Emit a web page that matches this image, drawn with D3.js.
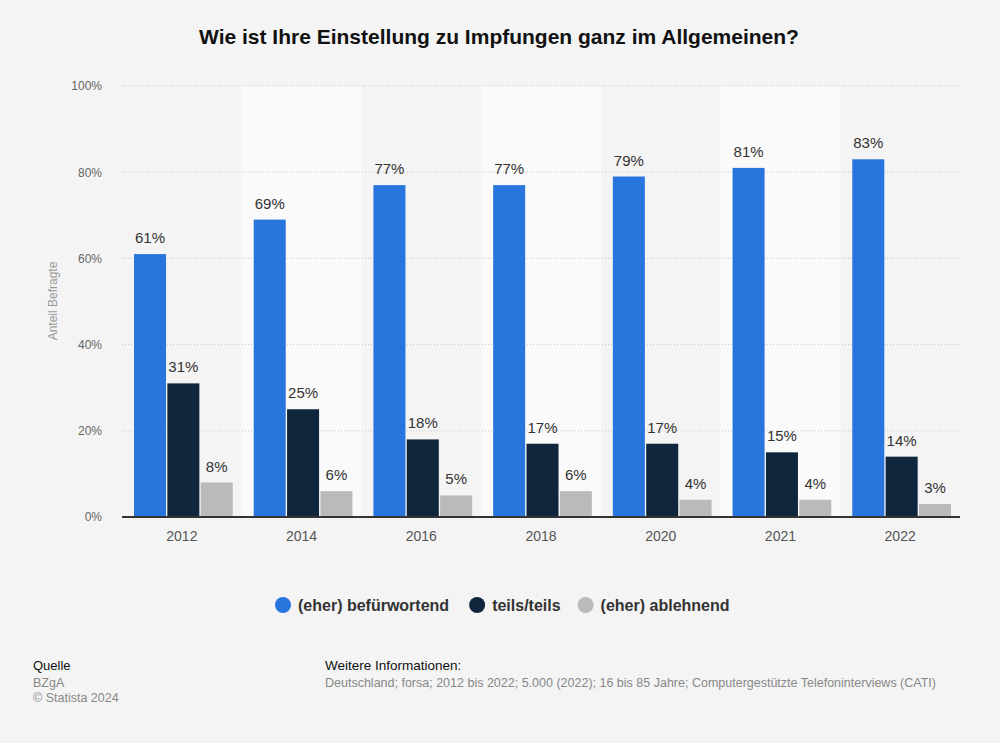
<!DOCTYPE html>
<html><head><meta charset="utf-8">
<script src="https://cdn.jsdelivr.net/npm/d3@7"></script>
<style>
body{margin:0;background:#f4f4f4;}
svg{display:block;font-family:"Liberation Sans",Arial,sans-serif;}
</style></head>
<body><svg id="c" width="1000" height="743"></svg>
<script>
const years = ["2012","2014","2016","2018","2020","2021","2022"];
const seriesNames = ["(eher) befürwortend","teils/teils","(eher) ablehnend"];
const befuerwortend = [61,69,77,77,79,81,83];
const teils = [31,25,18,17,17,15,14];
const ablehnend = [8,6,5,6,4,4,3];
const yTicks = [0,20,40,60,80,100];
const colors = ["#2876dd","#0f263d","#bababa"];
const seriesData = [befuerwortend, teils, ablehnend];

(function(){
const svg = d3.select("#c");
const pLeft = 122, pRight = 960, pTop = 86, pBottom = 517;

svg.append("rect").attr("width",1000).attr("height",743).attr("fill","#f4f4f4");

const x0 = d3.scaleBand().domain(years).range([pLeft,pRight]).padding(0);
const x1 = d3.scaleBand().domain(d3.range(3)).range([12, x0.bandwidth()-9]).paddingInner(0.04);
const y = d3.scaleLinear().domain([0,100]).range([pBottom,pTop]);

svg.append("g").selectAll("rect").data(years.filter((d,i)=>i%2===1)).join("rect")
  .attr("x",d=>x0(d)).attr("y",pTop).attr("width",x0.bandwidth()).attr("height",pBottom-pTop)
  .attr("fill","#fafafa");

svg.append("g").selectAll("line").data(yTicks.filter(t=>t>0)).join("line")
  .attr("x1",pLeft).attr("x2",pRight).attr("y1",d=>y(d)).attr("y2",d=>y(d))
  .attr("stroke","#c8c8c8").attr("stroke-dasharray","1,2").attr("stroke-width",1);

const yAxis = d3.axisLeft(y).tickValues(yTicks).tickFormat(d=>d+"%").tickSize(0).tickPadding(0);
const ya = svg.append("g").attr("transform",`translate(102,0)`).call(yAxis);
ya.select(".domain").remove();
ya.selectAll("text").attr("fill","#666").attr("font-size",12).attr("font-family","Liberation Sans,Arial,sans-serif");

svg.append("text").attr("transform","translate(57,301) rotate(-90)").attr("text-anchor","middle")
  .attr("fill","#999").attr("font-size",12).text("Anteil Befragte");

const groups = svg.append("g").selectAll("g").data(years).join("g")
  .attr("transform",d=>`translate(${x0(d)},0)`);
groups.each(function(yr,i){
  const g = d3.select(this);
  seriesData.forEach((arr,s)=>{
    const v = arr[i];
    g.append("rect").attr("x",x1(s)).attr("width",x1.bandwidth())
      .attr("y",y(v)).attr("height",pBottom-y(v)).attr("fill",colors[s]);
    g.append("text").attr("x",x1(s)+x1.bandwidth()/2).attr("y",y(v)-11)
      .attr("text-anchor","middle").attr("fill","#333").attr("font-size",15)
      .text(v+"%");
  });
});

svg.append("line").attr("x1",pLeft).attr("x2",pRight).attr("y1",pBottom).attr("y2",pBottom)
  .attr("stroke","#333").attr("stroke-width",2);

const xAxis = d3.axisBottom(x0).tickSize(0).tickPadding(14);
const xa = svg.append("g").attr("transform",`translate(0,${pBottom})`).call(xAxis);
xa.select(".domain").remove();
xa.selectAll("text").attr("fill","#555").attr("font-size",14).attr("font-family","Liberation Sans,Arial,sans-serif");

svg.append("text").attr("x",499).attr("y",44).attr("text-anchor","middle")
  .attr("font-weight","bold").attr("font-size",21).attr("fill","#111")
  .text("Wie ist Ihre Einstellung zu Impfungen ganz im Allgemeinen?");

const leg = svg.append("g");
let lx = 283;
const legGaps = [28, 25, 0];
seriesNames.forEach((n,i)=>{
  leg.append("circle").attr("cx",lx).attr("cy",605).attr("r",8).attr("fill",colors[i]);
  const t = leg.append("text").attr("x",lx+15).attr("y",611).attr("font-size",16).attr("font-weight","bold")
    .attr("fill","#333").text(n);
  lx += 15 + t.node().getComputedTextLength() + legGaps[i];
});

const f = svg.append("g").attr("font-size",12.5);
f.append("text").attr("x",33).attr("y",670).attr("fill","#111").attr("font-size",13).text("Quelle");
f.append("text").attr("x",33).attr("y",687).attr("fill","#888").text("BZgA");
f.append("text").attr("x",33).attr("y",702).attr("fill","#888").text("© Statista 2024");
f.append("text").attr("x",325).attr("y",670).attr("fill","#111").attr("font-size",13.5).text("Weitere Informationen:");
f.append("text").attr("x",325).attr("y",687).attr("fill","#888")
  .text("Deutschland; forsa; 2012 bis 2022; 5.000 (2022); 16 bis 85 Jahre; Computergestützte Telefoninterviews (CATI)");
})();
</script></body></html>
